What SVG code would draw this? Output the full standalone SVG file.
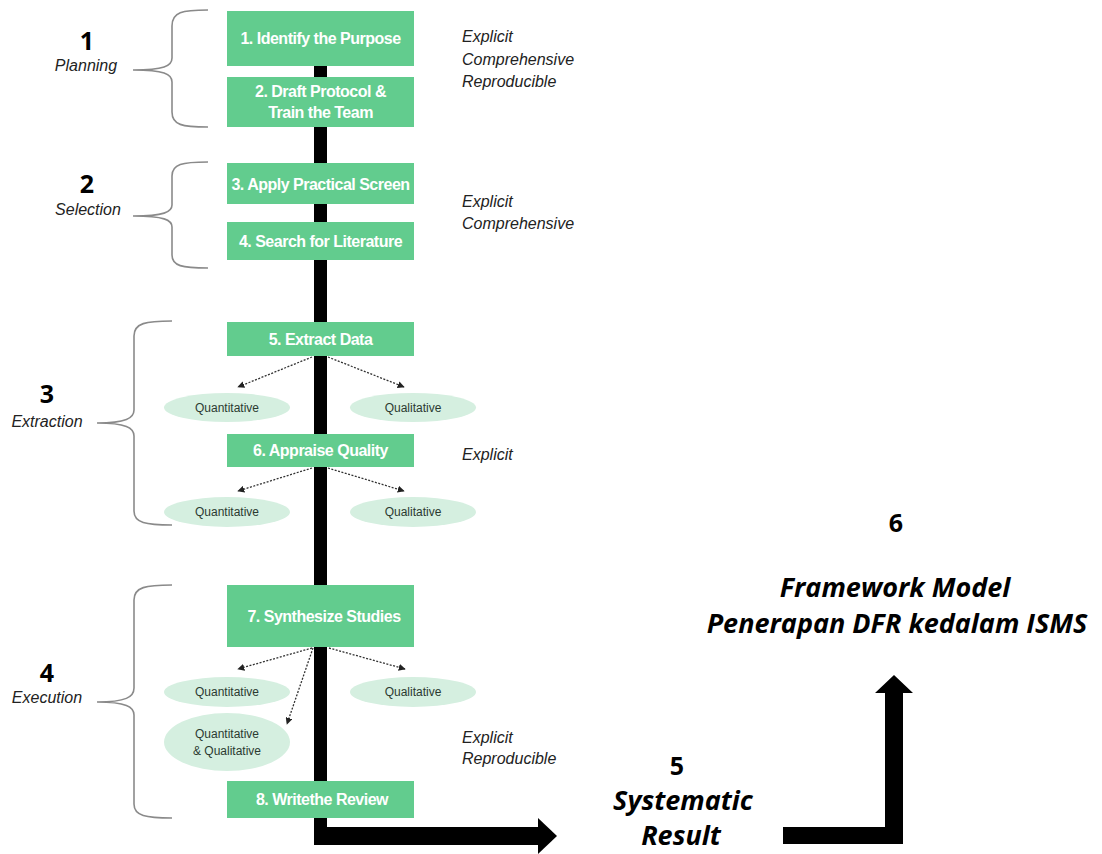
<svg xmlns="http://www.w3.org/2000/svg" width="1102" height="854" viewBox="0 0 1102 854">
  <style>
    .step { fill: #62cc8e; }
    .stepText { font-family: "Liberation Sans", Arial, sans-serif; font-weight: bold; font-size: 16px; letter-spacing: -0.5px; fill: #ffffff; text-anchor: middle; }
    .oval { fill: #d5efe0; }
    .ovalText { font-family: "Liberation Sans", Arial, sans-serif; font-size: 12px; fill: #2b3a31; text-anchor: middle; }
    .brace { fill: none; stroke: #8a8a8a; stroke-width: 1.6; }
    .phaseNum { font-family: "Open Sans", "Liberation Sans", sans-serif; font-weight: bold; font-size: 25px; fill: #000; text-anchor: middle; }
    .phaseName { font-family: "Liberation Sans", Arial, sans-serif; font-style: italic; font-size: 16px; fill: #222; text-anchor: middle; }
    .quality { font-family: "Liberation Sans", Arial, sans-serif; font-style: italic; font-size: 16px; fill: #222; }
    .big { font-family: "Open Sans", "Liberation Sans", sans-serif; font-weight: bold; font-style: italic; font-size: 27px; fill: #000; text-anchor: middle; }
    .flow { fill: #000; }
    .dot { fill: none; stroke: #333; stroke-width: 1.3; stroke-dasharray: 2 1.5; }
  </style>
  <defs>
    <marker id="tip" viewBox="0 0 10 10" refX="9" refY="5" markerWidth="7" markerHeight="7" orient="auto" markerUnits="userSpaceOnUse">
      <path d="M0,0 L10,5 L0,10 z" fill="#222"/>
    </marker>
  </defs>

  <rect width="1102" height="854" fill="#ffffff"/>

  <!-- main spine and outgoing arrows -->
  <g id="connectors">
    <rect class="flow" x="314" y="66" width="13" height="779"/>
    <rect class="flow" x="314" y="827" width="226" height="18"/>
    <polygon class="flow" points="538,818 557,836 538,854"/>
    <path class="flow" d="M783,827 H885 V693 H875 L894,675 L913,693 H903 V844 H783 Z"/>
    <line class="dot" x1="312" y1="357" x2="238" y2="387" marker-end="url(#tip)"/>
    <line class="dot" x1="328" y1="357" x2="404" y2="387" marker-end="url(#tip)"/>
    <line class="dot" x1="312" y1="468" x2="238" y2="491" marker-end="url(#tip)"/>
    <line class="dot" x1="328" y1="468" x2="404" y2="491" marker-end="url(#tip)"/>
    <line class="dot" x1="312" y1="648" x2="238" y2="669" marker-end="url(#tip)"/>
    <line class="dot" x1="329" y1="648" x2="405" y2="669" marker-end="url(#tip)"/>
    <line class="dot" x1="313" y1="648" x2="287" y2="724" marker-end="url(#tip)"/>
  </g>

  <!-- phase braces -->
  <g id="braces">
    <path class="brace" d="M208,10 C182,10 172,12 172,26 L172,58 C172,66 164,70 133,70 C164,70 172,74 172,82 L172,112 C172,125 182,127 208,127"/>
    <path class="brace" d="M208,162 C182,162 172,164 172,176 L172,205 C172,212 164,216 133,216 C164,216 172,220 172,227 L172,255 C172,266 182,268 208,268"/>
    <path class="brace" d="M172,321 C146,321 134,323 134,336 L134,410 C134,418 126,423 97,423 C126,423 134,428 134,436 L134,511 C134,523 146,525 172,525"/>
    <path class="brace" d="M172,585 C146,585 134,587 134,600 L134,688 C134,697 126,702 97,702 C126,702 134,707 134,715 L134,804 C134,816 146,818 172,818"/>
  </g>

  <g id="phase1">
    <text class="phaseNum" x="87" y="50">1</text>
    <text class="phaseName" x="86" y="71">Planning</text>
  </g>
  <g id="phase2">
    <text class="phaseNum" x="87" y="193">2</text>
    <text class="phaseName" x="88" y="215">Selection</text>
  </g>
  <g id="phase3">
    <text class="phaseNum" x="47" y="403">3</text>
    <text class="phaseName" x="47" y="427">Extraction</text>
  </g>
  <g id="phase4">
    <text class="phaseNum" x="47" y="682">4</text>
    <text class="phaseName" x="47" y="703">Execution</text>
  </g>

  <g id="step1">
    <rect class="step" x="227" y="11" width="187" height="55"/>
    <text class="stepText" x="320.5" y="44">1. Identify the Purpose</text>
  </g>
  <g id="step2">
    <rect class="step" x="227" y="77" width="187" height="50"/>
    <text class="stepText" x="320.5" y="97">2. Draft Protocol &amp;</text>
    <text class="stepText" x="320.5" y="118">Train the Team</text>
  </g>
  <g id="step3">
    <rect class="step" x="227" y="163" width="187" height="41"/>
    <text class="stepText" x="320.5" y="190">3. Apply Practical Screen</text>
  </g>
  <g id="step4">
    <rect class="step" x="227" y="222" width="187" height="38"/>
    <text class="stepText" x="320.5" y="247">4. Search for Literature</text>
  </g>
  <g id="step5">
    <rect class="step" x="227" y="322" width="187" height="34"/>
    <text class="stepText" x="320.5" y="345">5. Extract Data</text>
  </g>
  <g id="step6">
    <rect class="step" x="227" y="434" width="187" height="33"/>
    <text class="stepText" x="320.5" y="456">6. Appraise Quality</text>
  </g>
  <g id="step7">
    <rect class="step" x="227" y="585" width="187" height="62"/>
    <text class="stepText" x="324" y="622">7. Synthesize Studies</text>
  </g>
  <g id="step8">
    <rect class="step" x="227" y="781" width="187" height="37"/>
    <text class="stepText" x="322" y="805">8. Writethe Review</text>
  </g>

  <g id="extract-quant">
    <ellipse class="oval" cx="227" cy="407.5" rx="63" ry="14.5"/>
    <text class="ovalText" x="227" y="412">Quantitative</text>
  </g>
  <g id="extract-qual">
    <ellipse class="oval" cx="413" cy="407.5" rx="63" ry="14.5"/>
    <text class="ovalText" x="413" y="412">Qualitative</text>
  </g>
  <g id="appraise-quant">
    <ellipse class="oval" cx="227" cy="512" rx="63" ry="15"/>
    <text class="ovalText" x="227" y="516">Quantitative</text>
  </g>
  <g id="appraise-qual">
    <ellipse class="oval" cx="413" cy="512" rx="63" ry="15"/>
    <text class="ovalText" x="413" y="516">Qualitative</text>
  </g>
  <g id="synth-quant">
    <ellipse class="oval" cx="227" cy="692" rx="63" ry="15"/>
    <text class="ovalText" x="227" y="696">Quantitative</text>
  </g>
  <g id="synth-qual">
    <ellipse class="oval" cx="413" cy="692" rx="63" ry="15"/>
    <text class="ovalText" x="413" y="696">Qualitative</text>
  </g>
  <g id="synth-mixed">
    <ellipse class="oval" cx="227" cy="742" rx="63" ry="29"/>
    <text class="ovalText" x="227" y="738">Quantitative</text>
    <text class="ovalText" x="227" y="755">&amp; Qualitative</text>
  </g>

  <g id="qualities">
    <text class="quality" x="462" y="42">Explicit</text>
    <text class="quality" x="462" y="65">Comprehensive</text>
    <text class="quality" x="462" y="87">Reproducible</text>
    <text class="quality" x="462" y="207">Explicit</text>
    <text class="quality" x="462" y="229">Comprehensive</text>
    <text class="quality" x="462" y="460">Explicit</text>
    <text class="quality" x="462" y="743">Explicit</text>
    <text class="quality" x="462" y="764">Reproducible</text>
  </g>

  <g id="result">
    <text class="phaseNum" x="677" y="775">5</text>
    <text class="big" x="683" y="810">Systematic</text>
    <text class="big" x="681" y="845">Result</text>
  </g>

  <g id="framework">
    <text class="phaseNum" x="896" y="532">6</text>
    <text class="big" x="895" y="597">Framework Model</text>
    <text class="big" x="897" y="633">Penerapan DFR kedalam ISMS</text>
  </g>
</svg>
